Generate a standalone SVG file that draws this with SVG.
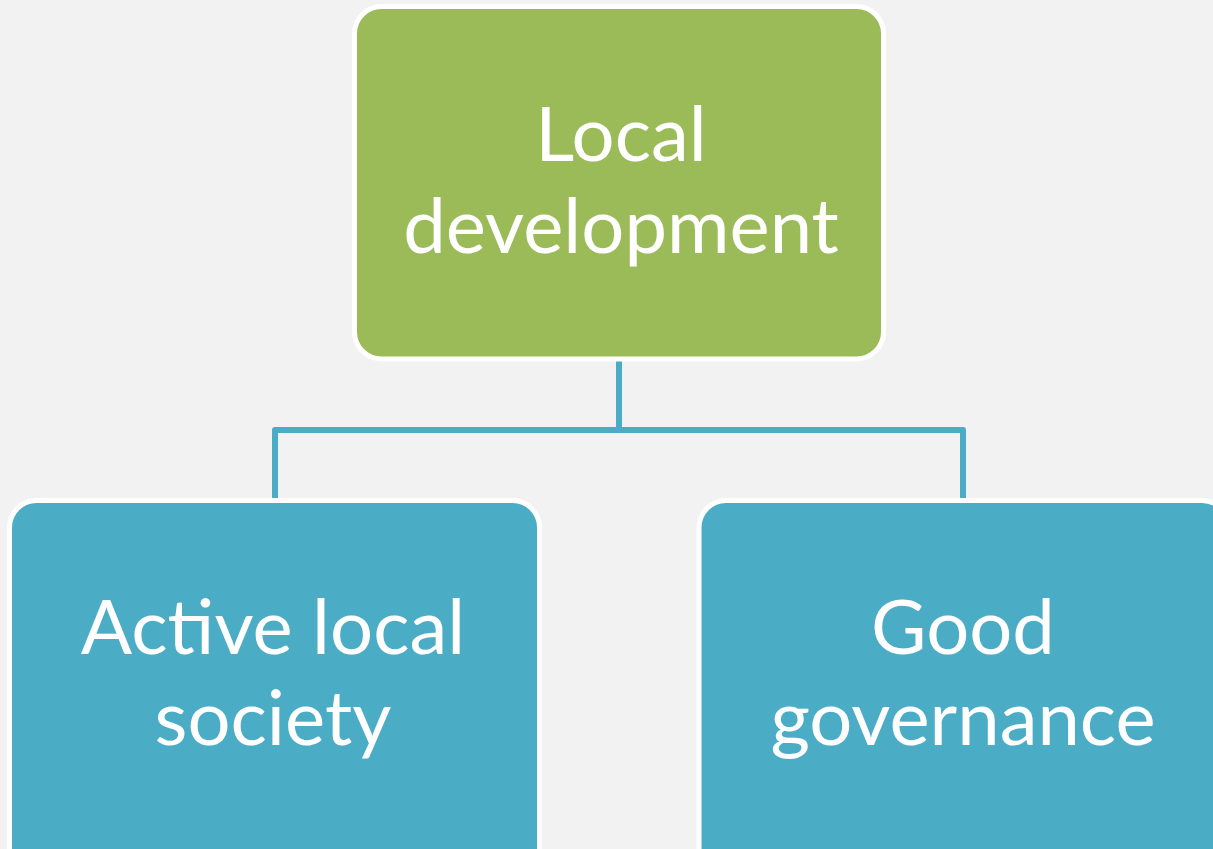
<svg xmlns="http://www.w3.org/2000/svg" width="1213" height="849" viewBox="0 0 1213 849">
  <style>
    .box { stroke: #ffffff; stroke-width: 5; }
    .top { fill: #9bbb59; }
    .child { fill: #4bacc6; }
    .lbl { font-family: Lato, "Open Sans", "Liberation Sans", sans-serif; font-size: 76px; fill: #ffffff; text-anchor: middle; }
    .conn { fill: none; stroke: #4bacc6; stroke-width: 6; stroke-linejoin: round; }
  </style>
  <rect x="0" y="0" width="1213" height="849" fill="#f2f2f2"/>
  <g id="connectors">
    <path class="conn" d="M619,359 V430"/>
    <path class="conn" d="M275,499 V430 H963 V499"/>
  </g>
  <g id="node-local-development">
    <rect class="box top" x="354.5" y="6.5" width="529" height="352.5" rx="27" ry="27"/>
    <text class="lbl" x="621" y="161">Local</text>
    <text class="lbl" x="621" y="253">development</text>
  </g>
  <g id="node-active-local-society">
    <rect class="box child" x="9.5" y="500.5" width="530" height="400" rx="27" ry="27"/>
    <text class="lbl" x="273" y="654">Active local</text>
    <text class="lbl" x="273" y="745">society</text>
  </g>
  <g id="node-good-governance">
    <rect class="box child" x="699" y="500.5" width="530" height="400" rx="27" ry="27"/>
    <text class="lbl" x="963" y="654">Good</text>
    <text class="lbl" x="963" y="745">governance</text>
  </g>
</svg>
